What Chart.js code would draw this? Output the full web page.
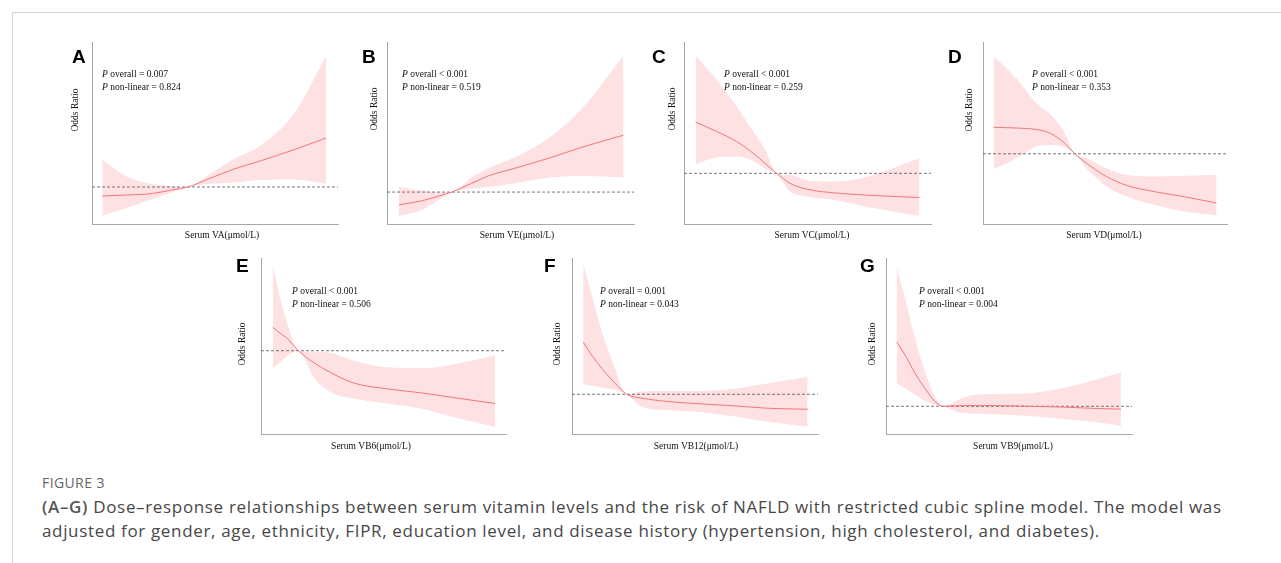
<!DOCTYPE html>
<html>
<head>
<meta charset="utf-8">
<script src="https://cdn.jsdelivr.net/npm/chart.js@4.4.0/dist/chart.umd.min.js"></script>
<style>
  body { margin: 0; width: 1281px; height: 563px; background: #fff; position: relative; overflow: hidden; }
  .frame { position: absolute; left: 12px; top: 12px; width: 1300px; height: 600px; border-top: 1px solid #d4d4d4; border-left: 1px solid #d4d4d4; }
  canvas { position: absolute; }
  .tag { position: absolute; font: bold 19px "Liberation Sans", Arial, sans-serif; line-height: 19px; color: #000; }
  .fig { position: absolute; left: 42px; top: 476px; font: 14px "Open Sans", sans-serif; line-height: 14px; letter-spacing: 0.4px; color: #666; }
  .cap { position: absolute; left: 42px; top: 495px; font: 17px "Open Sans", sans-serif; line-height: 24px; letter-spacing: 0.66px; color: #474747; white-space: nowrap; }
  .cap b { font-weight: 600; color: #555; }
</style>
</head>
<body>
<div class="frame"></div>
<div id="wrap"></div>
<div class="fig">FIGURE 3</div>
<div class="cap"><b>(A–G)</b> Dose–response relationships between serum vitamin levels and the risk of NAFLD with restricted cubic spline model. The model was<br>adjusted for gender, age, ethnicity, FIPR, education level, and disease history (hypertension, high cholesterol, and diabetes).</div>
<script>
// --- data (odds ratio, 95% CI) ---
const vaX     = [0.91, 1.24, 1.59, 1.85, 2.07, 2.35, 2.70, 3.05, 3.50, 3.95];
const vaOR    = [0.82, 0.84, 0.87, 0.94, 1.00, 1.16, 1.36, 1.52, 1.74, 1.98];
const vaUpper = [1.55, 1.21, 1.06, 1.02, 1.00, 1.24, 1.56, 1.82, 2.44, 3.62];
const vaLower = [0.43, 0.58, 0.76, 0.89, 1.00, 1.06, 1.09, 1.14, 1.15, 1.07];

const veX     = [12.4, 19.7, 25.0, 29.3, 35.7, 41.0, 49.5, 60.2, 70.9, 84.2];
const veOR    = [0.65, 0.76, 0.89, 1.00, 1.24, 1.44, 1.65, 1.92, 2.22, 2.55];
const veUpper = [1.14, 1.04, 0.99, 1.00, 1.40, 1.65, 1.95, 2.46, 3.28, 4.71];
const veLower = [0.35, 0.51, 0.78, 1.00, 1.10, 1.14, 1.24, 1.39, 1.44, 1.40];

const vcX     = [3.4, 17.9, 31.7, 43.1, 51.2, 59.2, 68.4, 82.2, 98.2, 121.2, 157.5];
const vcOR    = [1.87, 1.71, 1.54, 1.34, 1.17, 1.00, 0.83, 0.72, 0.67, 0.63, 0.59];
const vcUpper = [3.00, 2.59, 2.13, 1.71, 1.40, 1.00, 0.97, 0.87, 0.86, 0.94, 1.26];
const vcLower = [1.16, 1.27, 1.28, 1.21, 1.08, 1.00, 0.69, 0.60, 0.55, 0.43, 0.28];

const vdX     = [17.4, 29.0, 39.1, 45.8, 52.5, 58.4, 64.3, 74.4, 84.5, 99.6, 114.8, 129.9];
const vdOR    = [1.36, 1.35, 1.33, 1.28, 1.16, 1.00, 0.87, 0.69, 0.57, 0.48, 0.41, 0.33];
const vdUpper = [2.33, 2.02, 1.68, 1.54, 1.32, 1.00, 0.94, 0.80, 0.71, 0.69, 0.70, 0.71];
const vdLower = [0.79, 0.94, 1.10, 1.12, 1.10, 1.00, 0.80, 0.56, 0.42, 0.30, 0.21, 0.16];

const vb6X     = [3.0, 8.9, 14.2, 23.7, 35.8, 49.2, 68.0, 94.9, 121.8, 148.7, 182.3];
const vb6OR    = [1.24, 1.18, 1.13, 1.00, 0.88, 0.78, 0.67, 0.61, 0.57, 0.52, 0.46];
const vb6Upper = [1.88, 1.54, 1.30, 1.00, 0.99, 0.98, 0.90, 0.83, 0.82, 0.86, 0.95];
const vb6Lower = [0.82, 0.88, 0.94, 1.00, 0.73, 0.58, 0.51, 0.46, 0.41, 0.32, 0.22];

const vb12X     = [88, 140, 202, 284, 356, 449, 613, 819, 1025, 1230, 1473];
const vb12OR    = [2.08, 1.81, 1.54, 1.23, 1.00, 0.92, 0.85, 0.80, 0.76, 0.71, 0.69];
const vb12Upper = [3.68, 3.06, 2.30, 1.54, 1.00, 1.06, 1.07, 1.07, 1.12, 1.23, 1.36];
const vb12Lower = [1.21, 1.18, 1.14, 1.09, 1.00, 0.74, 0.67, 0.63, 0.54, 0.43, 0.33];

const vb9X     = [5.14, 7.77, 10.93, 14.09, 17.25, 20.0, 25.7, 30.9, 36.2, 46.7, 57.3, 67.8, 76.0];
const vb9OR    = [2.79, 2.43, 1.92, 1.50, 1.13, 1.00, 1.02, 1.02, 1.02, 1.00, 0.98, 0.94, 0.92];
const vb9Upper = [4.88, 4.00, 2.89, 1.96, 1.27, 1.00, 1.22, 1.33, 1.34, 1.36, 1.50, 1.73, 1.94];
const vb9Lower = [1.64, 1.50, 1.33, 1.15, 1.04, 1.00, 0.81, 0.79, 0.78, 0.73, 0.65, 0.56, 0.46];

// tick labels
const vaTicksX = [1, 2, 3, 4],        vaTicksY = [1, 2, 3];
const veTicksX = [20, 40, 60, 80],    veTicksY = [1, 2, 3, 4];
const vcTicksX = [0, 50, 100, 150],   vcTicksY = [1, 2, 3];
const vdTicksX = [50, 100],           vdTicksY = [0.5, 1, 1.5, 2];
const vb6TicksX = [0, 50, 100, 150],  vb6TicksY = [0.5, 1, 1.5];
const vb12TicksX = [500, 1000, 1500], vb12TicksY = [1, 2, 3];
const vb9TicksX = [20, 40, 60],       vb9TicksY = [1, 2, 3, 4, 5];

const pOverall  = ['= 0.007', '< 0.001', '< 0.001', '< 0.001', '< 0.001', '= 0.001', '< 0.001'];
const pNonlin   = ['= 0.824', '= 0.519', '= 0.259', '= 0.353', '= 0.506', '= 0.043', '= 0.004'];
const xTitles   = ['Serum VA(μmol/L)', 'Serum VE(μmol/L)', 'Serum VC(μmol/L)', 'Serum VD(μmol/L)',
                   'Serum VB6(μmol/L)', 'Serum VB12(μmol/L)', 'Serum VB9(μmol/L)'];
const tags      = ['A', 'B', 'C', 'D', 'E', 'F', 'G'];

// layout: axis box on the page [left, top, right, bottom], axis ranges, text anchors
const panels = [
  { x: vaX, or: vaOR, up: vaUpper, lo: vaLower, tx: vaTicksX, ty: vaTicksY,
    box: [92, 42, 338, 224], xr: [0.77, 4.11], yr: [0.26, 3.9], note: [102, 77], yLab: [75, 110], xLab: [222, 235], tag: [72, 47] },
  { x: veX, or: veOR, up: veUpper, lo: veLower, tx: veTicksX, ty: veTicksY,
    box: [387, 42, 634, 224], xr: [8.6, 87.6], yr: [0.13, 5.09], note: [402, 77], yLab: [374, 109], xLab: [517, 235], tag: [362, 47] },
  { x: vcX, or: vcOR, up: vcUpper, lo: vcLower, tx: vcTicksX, ty: vcTicksY,
    box: [684, 42, 931, 224], xr: [-4.6, 165.5], yr: [0.14, 3.23], note: [724, 77], yLab: [672, 109], xLab: [812, 235], tag: [652, 47] },
  { x: vdX, or: vdOR, up: vdUpper, lo: vdLower, tx: vdTicksX, ty: vdTicksY,
    box: [983, 42, 1227, 224], xr: [12.0, 135.2], yr: [0.045, 2.52], note: [1032, 77], yLab: [969, 110], xLab: [1104, 235], tag: [948, 47] },
  { x: vb6X, or: vb6OR, up: vb6Upper, lo: vb6Lower, tx: vb6TicksX, ty: vb6TicksY,
    box: [261, 258, 506, 434], xr: [-6.5, 191.1], yr: [0.147, 1.95], note: [292, 294], yLab: [242, 344], xLab: [371, 446], tag: [236, 256] },
  { x: vb12X, or: vb12OR, up: vb12Upper, lo: vb12Lower, tx: vb12TicksX, ty: vb12TicksY,
    box: [572, 258, 818, 434], xr: [18.5, 1537], yr: [0.178, 3.82], note: [600, 294], yLab: [557, 344], xLab: [696, 446], tag: [544, 256] },
  { x: vb9X, or: vb9OR, up: vb9Upper, lo: vb9Lower, tx: vb9TicksX, ty: vb9TicksY,
    box: [886, 258, 1132, 434], xr: [1.77, 79.5], yr: [0.23, 5.12], note: [919, 294], yLab: [872, 344], xLab: [1013, 446], tag: [860, 256] }
];

const PAD = { left: 34, top: 10, right: 8, bottom: 30 };
const SERIF = '"Liberation Serif", "Times New Roman", serif';

// draws the axis titles and the P-value notes
const panelText = {
  id: 'panelText',
  afterDraw(chart, args, o) {
    const ctx = chart.ctx;
    const ox = o.ox, oy = o.oy;
    ctx.save();
    ctx.fillStyle = '#111';
    ctx.font = '9.5px ' + SERIF;
    ctx.textAlign = 'center';
    ctx.textBaseline = 'middle';
    ctx.fillText(o.xTitle, o.xLab[0] - ox, o.xLab[1] - oy);
    ctx.translate(o.yLab[0] - ox, o.yLab[1] - oy);
    ctx.rotate(-Math.PI / 2);
    ctx.fillText('Odds Ratio', 0, 0);
    ctx.restore();

    ctx.save();
    ctx.fillStyle = '#111';
    ctx.textAlign = 'left';
    ctx.textBaseline = 'alphabetic';
    const lines = ['overall ' + o.p1, 'non-linear ' + o.p2];
    lines.forEach((t, i) => {
      const x = o.note[0] - ox, y = o.note[1] - oy + i * 13;
      ctx.font = 'italic 9.5px ' + SERIF;
      ctx.fillText('P', x, y);
      const w = ctx.measureText('P ').width;
      ctx.font = '9.5px ' + SERIF;
      ctx.fillText(t, x + w, y);
    });
    ctx.restore();
  }
};

const wrap = document.getElementById('wrap');
panels.forEach((p, k) => {
  const [L, T, R, B] = p.box;
  const cv = document.createElement('canvas');
  const left = L - PAD.left, top = T - PAD.top;
  cv.width = R - L + PAD.left + PAD.right;
  cv.height = B - T + PAD.top + PAD.bottom;
  cv.style.left = left + 'px';
  cv.style.top = top + 'px';
  wrap.appendChild(cv);

  const tag = document.createElement('div');
  tag.className = 'tag';
  tag.textContent = tags[k];
  tag.style.left = p.tag[0] + 'px';
  tag.style.top = p.tag[1] + 'px';
  wrap.appendChild(tag);

  const pts = arr => p.x.map((x, i) => ({ x: x, y: arr[i] }));
  const tickFont = { size: 4, family: SERIF };

  new Chart(cv.getContext('2d'), {
    type: 'line',
    data: {
      datasets: [
        { data: pts(p.or), borderColor: '#f27779', borderWidth: 1, pointRadius: 0,
          cubicInterpolationMode: 'monotone', fill: false, order: 0 },
        { data: [{ x: p.xr[0], y: 1 }, { x: p.xr[1], y: 1 }], borderColor: '#555', borderWidth: 0.8,
          borderDash: [3, 2], pointRadius: 0, fill: false, order: 1 },
        { data: pts(p.up), borderWidth: 0, borderColor: 'rgba(0,0,0,0)', pointRadius: 0,
          backgroundColor: '#fde1e3', cubicInterpolationMode: 'monotone', fill: 3, order: 2 },
        { data: pts(p.lo), borderWidth: 0, borderColor: 'rgba(0,0,0,0)', pointRadius: 0,
          cubicInterpolationMode: 'monotone', fill: false, order: 3 }
      ]
    },
    options: {
      responsive: false,
      animation: false,
      events: [],
      layout: { padding: PAD },
      scales: {
        x: {
          type: 'linear', min: p.xr[0], max: p.xr[1],
          grid: { display: false, drawTicks: false },
          border: { display: true, color: '#a8a8a8', width: 1 },
          ticks: { font: tickFont, color: '#b5b5b5', padding: 3, callback: v => String(v) },
          afterBuildTicks: s => { s.ticks = p.tx.map(v => ({ value: v })); },
          afterFit: s => { s.height = 0; }
        },
        y: {
          type: 'linear', min: p.yr[0], max: p.yr[1],
          grid: { display: false, drawTicks: false },
          border: { display: true, color: '#a8a8a8', width: 1 },
          ticks: { font: tickFont, color: '#b5b5b5', padding: 3, callback: v => String(v) },
          afterBuildTicks: s => { s.ticks = p.ty.map(v => ({ value: v })); },
          afterFit: s => { s.width = 0; }
        }
      },
      plugins: {
        legend: { display: false },
        tooltip: { enabled: false },
        panelText: { ox: left, oy: top, xTitle: xTitles[k], p1: pOverall[k], p2: pNonlin[k],
                     note: p.note, yLab: p.yLab, xLab: p.xLab }
      }
    },
    plugins: [panelText]
  });
});
</script>
</body>
</html>
